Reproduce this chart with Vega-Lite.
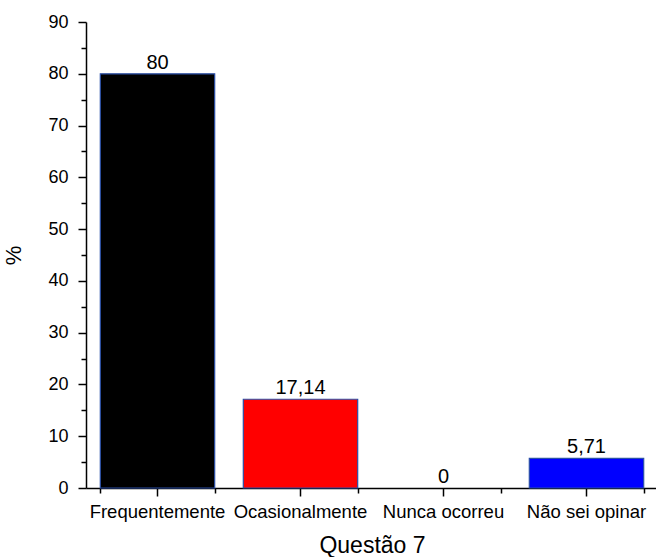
{
  "$schema": "https://vega.github.io/schema/vega-lite/v6.json",
  "width": 572,
  "height": 466,
  "autosize": {"type": "none"},
  "padding": {"left": 86, "top": 22, "right": 0, "bottom": 69},
  "background": "white",
  "config": {
    "view": {"stroke": null},
    "font": "Liberation Sans",
    "axis": {"grid": false, "zindex": 1, "domainColor": "black", "tickColor": "black", "labelColor": "black", "titleColor": "black", "domainWidth": 1.5, "tickWidth": 1.5, "titleFontWeight": "normal", "labelFont": "Liberation Sans", "titleFont": "Liberation Sans"},
    "locale": {"number": {"decimal": ",", "thousands": ".", "grouping": [3], "currency": ["", ""]}}
  },
  "data": {
    "values": [
      {"cat": "Frequentemente", "value": 80},
      {"cat": "Ocasionalmente", "value": 17.14},
      {"cat": "Nunca ocorreu", "value": 0},
      {"cat": "Não sei opinar", "value": 5.71}
    ]
  },
  "encoding": {
    "y": {
      "field": "value",
      "type": "quantitative",
      "scale": {"domain": [0, 90], "nice": false, "zero": true},
      "axis": {
        "title": "%",
        "titleFontSize": 22,
        "titleAngle": -90,
        "titlePadding": 22,
        "values": [0, 5, 10, 15, 20, 25, 30, 35, 40, 45, 50, 55, 60, 65, 70, 75, 80, 85, 90],
        "labelExpr": "datum.value % 10 === 0 ? datum.label : ''",
        "labelFontSize": 18,
        "labelPadding": 10,
        "tickSize": {"condition": {"test": "datum.value % 10 !== 0", "value": 5}, "value": 8}
      }
    }
  },
  "layer": [
    {
      "mark": {"type": "bar", "stroke": "#2a4fa8", "strokeWidth": 1.2},
      "encoding": {
        "x": {
          "field": "cat",
          "type": "nominal",
          "sort": null,
          "scale": {"paddingInner": 0.2, "paddingOuter": 0.1},
          "axis": {
            "orient": "bottom",
            "title": "Questão 7",
            "titleFontSize": 23,
            "titlePadding": 14,
            "labelAngle": 0,
            "labelFontSize": 18.5,
            "labelPadding": 6,
            "tickSize": 8
          }
        },
        "color": {
          "field": "cat",
          "type": "nominal",
          "sort": null,
          "scale": {"domain": ["Frequentemente", "Ocasionalmente", "Nunca ocorreu", "Não sei opinar"], "range": ["#000000", "#ff0000", "#00ff00", "#0000ff"]},
          "legend": null
        },
        "strokeOpacity": {"condition": {"test": "datum.value === 0", "value": 0}, "value": 1}
      }
    },
    {
      "mark": {"type": "text", "baseline": "alphabetic", "dy": -5, "fontSize": 20, "color": "black"},
      "encoding": {
        "x": {
          "field": "cat",
          "type": "nominal",
          "sort": null,
          "axis": {
            "orient": "bottom",
            "title": null,
            "labels": false,
            "domain": false,
            "tickBand": "extent",
            "tickSize": 5
          }
        },
        "text": {"field": "value", "type": "quantitative", "format": "~g"}
      }
    }
  ],
  "resolve": {"axis": {"x": "independent"}}
}
